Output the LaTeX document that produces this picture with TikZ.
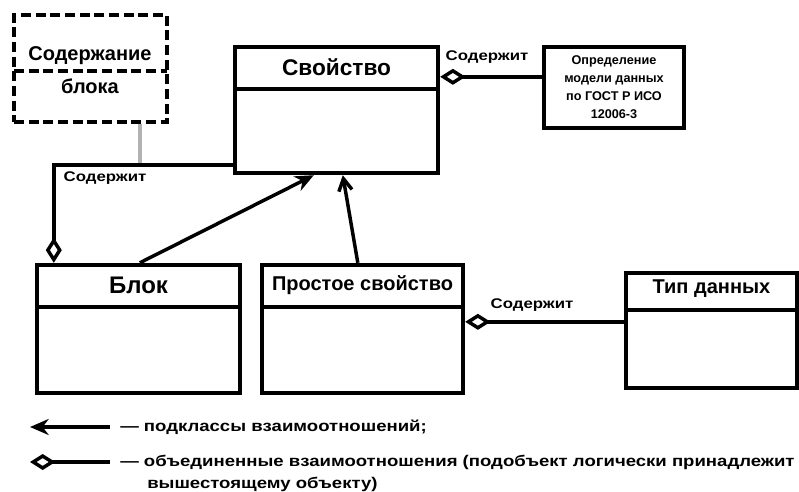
\documentclass[tikz,border=0pt]{standalone}
\usepackage{fontspec}
\setmainfont{Liberation Sans}
\newfontfamily\widefont{Liberation Sans}[FakeStretch=1.2]
\usetikzlibrary{arrows.meta,positioning}
\newcommand\pu{0.75pt}
\tikzset{
    cls/.style={rectangle, draw, line width=3.3pt, inner sep=0, fill=white},
    hdr/.style={path picture={\draw[line width=3.3pt]
        ([yshift=-#1]path picture bounding box.north west) --
        ([yshift=-#1]path picture bounding box.north east);}},
    ttl/.style={font=\fontsize{15}{17}\selectfont\bfseries, inner sep=0},
    lbl/.style={font=\widefont\fontsize{10.5}{12}\selectfont\bfseries, inner sep=0},
    leg/.style={font=\widefont\fontsize{11.6}{13}\selectfont\bfseries, inner sep=0, anchor=west},
    comp/.style={{Diamond[open, length=19pt, width=12pt]}-, line width=2.6pt},
    gen/.style={-{Stealth[length=14pt, width=12pt]}, line width=2.6pt},
    gen2/.style={-{Straight Barb[length=9pt, width=10pt]}, line width=2.6pt},
  }

\begin{document}
\begin{tikzpicture}[x=\pu, y=-\pu]
    \useasboundingbox (0,0) rectangle (799,492);

    % classes
    \node (svo) [cls, hdr=42*\pu, minimum width=203*\pu, minimum height=126*\pu] at (336.5,110) {};
    \node (svo-t) [ttl, font=\fontsize{17}{19}\selectfont\bfseries] at ([yshift=-22*\pu]svo.north) {Свойство};

    \node (cont) [cls, dashed, dash pattern=on 7.5pt off 3.5pt, hdr=56*\pu,
        minimum width=153*\pu, minimum height=107*\pu] at (90.5,68.5) {};
    \node (cont-t) [ttl] at (90,56) {Содержание};
    \node (cont-b) [ttl] at (90,86) {блока};

    \node (opr) [cls, minimum width=140*\pu, minimum height=81*\pu, align=center,
        font=\fontsize{9.5}{13.5}\selectfont\bfseries] at (614,87.5)
        {Определение\\модели данных\\по ГОСТ Р ИСО\\12006-3};

    \node (blk) [cls, hdr=42*\pu, minimum width=203*\pu, minimum height=128*\pu] at (138.5,329) {};
    \node (blk-t) [ttl, font=\fontsize{18}{20}\selectfont\bfseries] at ([yshift=-23*\pu]blk.north) {Блок};

    \node (prs) [cls, hdr=42*\pu, minimum width=201*\pu, minimum height=128*\pu] at (362.5,329) {};
    \node (prs-t) [ttl] at ([yshift=-22*\pu]prs.north) {Простое свойство};

    \node (tip) [cls, hdr=37*\pu, minimum width=171*\pu, minimum height=115*\pu] at (711.5,330.5) {};
    \node (tip-t) [ttl] at ([yshift=-18*\pu]tip.north) {Тип данных};

    % links
    \coordinate (jn) at (140,163);
    \draw[line width=2.6pt, gray!60] (cont.south -| jn) -- (jn);
    \draw[comp] ([xshift=19*\pu]blk.north west) |- ([yshift=10*\pu]svo.south west);
    \node (c1) [lbl] at (105,178) {Содержит};

    \draw[comp] ([yshift=-32*\pu]svo.north east) -- ([yshift=-32*\pu]opr.north west);
    \node (c2) [lbl] at (487,57) {Содержит};

    \draw[comp] ([yshift=-59*\pu]prs.north east) -- ([yshift=-59*\pu]prs.north east -| tip.west);
    \node (c3) [lbl] at (532,305) {Содержит};

    \draw[gen] ([xshift=105*\pu]blk.north west) -- ([xshift=81*\pu]svo.south west);
    \draw[gen2] ([xshift=98*\pu]prs.north west) -- ([xshift=110*\pu]svo.south west);

    % legend
    \coordinate (l1a) at (30,427);
    \coordinate (l1b) at (110,427);
    \draw[gen] (l1b) -- (l1a);
    \node (l1) [leg] at (120,427) {— подклассы взаимоотношений;};

    \coordinate (l2a) at (30,462);
    \coordinate (l2b) at (110,462);
    \draw[comp] (l2a) -- (l2b);
    \node (l2) [leg] at (120,462) {— объединенные взаимоотношения (подобъект логически принадлежит};
    \node (l3) [leg] at (147,484) {вышестоящему объекту)};
\end{tikzpicture}
\end{document}
